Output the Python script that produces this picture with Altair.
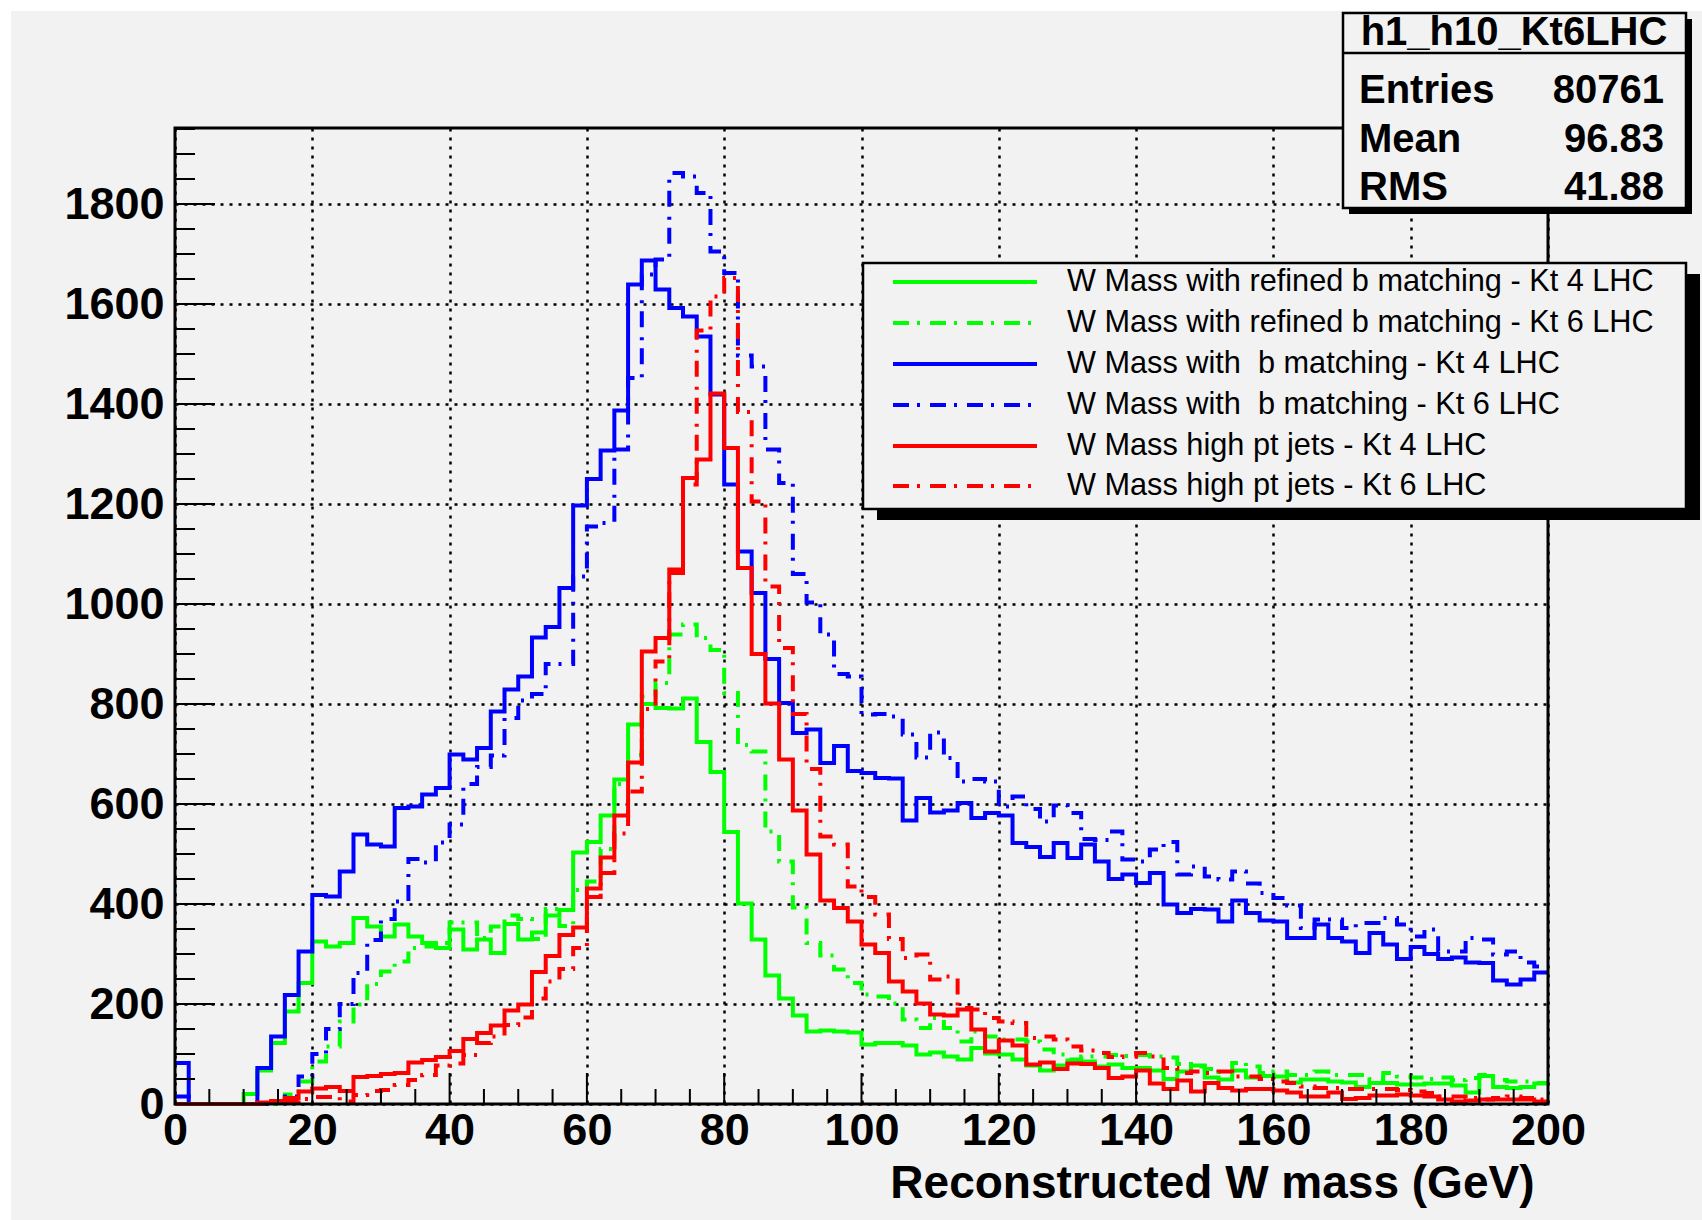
import altair as alt
import pandas as pd
import numpy as np

# ---------------- data (bin contents, 100 bins of 2 GeV from 0 to 200) ----------------
bin_low = list(range(0, 200, 2))

green_kt4 = [0, 0, 0, 0, 0, 20, 67, 122, 185, 242,
             325, 315, 322, 372, 355, 335, 359, 335, 322, 312,
             349, 309, 329, 302, 360, 329, 343, 377, 388, 503,
             524, 577, 649, 759, 800, 792, 791, 811, 724, 664,
             544, 401, 329, 257, 211, 177, 145, 147, 145, 143,
             119, 122, 122, 117, 99, 103, 95, 89, 112, 101,
             99, 89, 77, 67, 77, 87, 85, 75, 79, 72,
             72, 67, 50, 65, 77, 53, 49, 67, 53, 56,
             55, 43, 49, 49, 45, 43, 34, 42, 42, 39,
             39, 41, 41, 37, 23, 56, 34, 32, 34, 41]

green_kt6 = [0, 0, 0, 0, 0, 0, 0, 0, 19, 45,
             85, 115, 165, 199, 240, 265, 285, 312, 315, 322,
             363, 363, 332, 355, 377, 370, 330, 390, 356, 428,
             445, 510, 640, 698, 815, 842, 939, 959, 932, 908,
             822, 718, 705, 545, 485, 393, 322, 297, 269, 242,
             219, 215, 201, 169, 152, 172, 152, 125, 145, 135,
             129, 129, 125, 109, 99, 89, 95, 95, 98, 96,
             98, 95, 93, 80, 75, 70, 64, 82, 75, 62,
             65, 58, 58, 65, 58, 58, 58, 50, 62, 55,
             53, 50, 53, 48, 52, 58, 48, 45, 45, 42]

blue_kt4 = [82, 0, 0, 0, 0, 0, 72, 135, 218, 305,
            418, 415, 465, 539, 519, 515, 592, 595, 619, 632,
            699, 689, 712, 785, 829, 855, 933, 954, 1032, 1197,
            1250, 1307, 1387, 1639, 1687, 1629, 1592, 1575, 1535, 1419,
            1239, 1105, 1022, 890, 802, 742, 749, 682, 716, 666,
            662, 652, 651, 567, 612, 583, 587, 602, 572, 582,
            577, 522, 514, 494, 522, 492, 519, 485, 450, 459,
            442, 462, 399, 382, 390, 389, 365, 407, 382, 367,
            365, 332, 332, 359, 332, 325, 302, 342, 319, 290,
            314, 300, 290, 293, 283, 282, 247, 239, 249, 263]

blue_kt6 = [15, 0, 0, 0, 0, 0, 0, 3, 15, 55,
            100, 150, 200, 262, 328, 370, 405, 490, 483, 523,
            559, 640, 674, 697, 772, 807, 820, 880, 880, 1055,
            1155, 1162, 1309, 1452, 1659, 1689, 1862, 1855, 1822, 1705,
            1662, 1497, 1475, 1309, 1242, 1060, 1003, 939, 860, 855,
            779, 780, 775, 739, 693, 743, 692, 645, 650, 645,
            595, 615, 590, 565, 597, 582, 530, 528, 545, 489,
            485, 509, 524, 459, 475, 455, 449, 465, 441, 422,
            412, 397, 352, 369, 369, 352, 362, 362, 372, 359,
            335, 349, 305, 305, 332, 329, 299, 305, 283, 275]

red_kt4 = [0, 0, 0, 0, 0, 0, 3, 6, 12, 25,
           31, 34, 26, 54, 56, 60, 62, 83, 88, 94,
           106, 130, 142, 157, 187, 199, 264, 296, 338, 353,
           431, 493, 577, 683, 905, 932, 1069, 1252, 1289, 1421,
           1312, 1072, 900, 801, 689, 587, 499, 407, 392, 365,
           319, 302, 245, 225, 201, 179, 177, 189, 149, 105,
           127, 117, 79, 83, 70, 81, 80, 72, 52, 55,
           67, 41, 30, 47, 25, 42, 32, 27, 30, 30,
           27, 23, 15, 15, 23, 10, 12, 17, 17, 19,
           17, 15, 9, 5, 7, 9, 9, 9, 9, 5]

red_kt6 = [0, 0, 0, 0, 0, 0, 0, 2, 5, 10,
           14, 14, 5, 18, 26, 28, 38, 48, 58, 77,
           81, 98, 122, 135, 158, 173, 211, 245, 270, 312,
           414, 462, 541, 625, 790, 885, 1062, 1239, 1547, 1615,
           1652, 1384, 1205, 1035, 912, 780, 670, 535, 519, 435,
           414, 379, 330, 292, 299, 249, 255, 192, 189, 172,
           165, 162, 132, 135, 129, 115, 107, 102, 94, 95,
           102, 95, 72, 62, 65, 62, 65, 55, 55, 50,
           45, 42, 35, 32, 32, 30, 30, 30, 30, 28,
           25, 22, 15, 15, 12, 9, 12, 15, 12, 9]

legend_labels = [
    "W Mass with refined b matching - Kt 4 LHC",
    "W Mass with refined b matching - Kt 6 LHC",
    "W Mass with \u00a0b matching - Kt 4 LHC",
    "W Mass with \u00a0b matching - Kt 6 LHC",
    "W Mass high pt jets - Kt 4 LHC",
    "W Mass high pt jets - Kt 6 LHC",
]
series_values = [green_kt4, green_kt6, blue_kt4, blue_kt6, red_kt4, red_kt6]

stats_title = "h1_h10_Kt6LHC"
stats_names = ["Entries", "Mean", "RMS"]
stats_numbers = ["80761", "96.83", "41.88"]

x_tick_labels = list(range(0, 201, 20))
y_tick_labels = list(range(0, 1801, 200))

# ---------------- styling / layout ----------------
W, H = 1373, 976
X0, Y0 = 175, 128
XMAX, YMAX = 200, 1952
BG = "#f2f2f2"
FONT = "Liberation Sans"
colors = ["#00ff00", "#00ff00", "#0000ff", "#0000ff", "#ff0000", "#ff0000"]
DASHDOT = [16, 8, 3, 10]
dashed = [False, True, False, True, False, True]
LW = 4


def px(xf):
    return xf - X0


def py(yf):
    return yf - Y0


one = pd.DataFrame({"k": [0]})
xscale = alt.Scale(domain=[0, XMAX], nice=False, zero=False)
yscale = alt.Scale(domain=[0, YMAX], nice=False)

xaxis = alt.Axis(values=x_tick_labels, title="Reconstructed W mass (GeV)", format="d",
                 labelFont=FONT, labelFontSize=45, labelFontWeight="bold", labelColor="black",
                 labelPadding=4, labelFlush=False, labelOverlap=False,
                 ticks=False, tickSize=0, domain=False,
                 grid=True, gridColor="black", gridDash=[3, 6], gridWidth=2.5, gridOpacity=1,
                 titleFont=FONT, titleFontSize=46, titleFontWeight="bold", titleColor="black",
                 titleAlign="right", titleBaseline="alphabetic", titleX=1359, titleY=93)
yaxis = alt.Axis(values=y_tick_labels, title=None, format="d",
                 labelFont=FONT, labelFontSize=45, labelFontWeight="bold", labelColor="black",
                 labelPadding=11, labelFlush=False, labelOverlap=False,
                 ticks=False, tickSize=0, domain=False,
                 grid=True, gridColor="black", gridDash=[3, 6], gridWidth=2.5, gridOpacity=1)

layers = []

# white strips of the screenshot border
layers.append(alt.Chart(one).mark_rect(fill="white").encode(
    x=alt.value(px(0)), x2=alt.value(px(11)), y=alt.value(py(0)), y2=alt.value(py(1220))))
layers.append(alt.Chart(one).mark_rect(fill="white").encode(
    x=alt.value(px(0)), x2=alt.value(px(1702)), y=alt.value(py(0)), y2=alt.value(py(11))))

# histograms
for i, vals in enumerate(series_values):
    df = pd.DataFrame({"x": bin_low + [XMAX], "y": vals + [vals[-1]]})
    kw = dict(interpolate="step-after", color=colors[i], strokeWidth=LW)
    if dashed[i]:
        kw["strokeDash"] = DASHDOT
    layers.append(alt.Chart(df).mark_line(**kw).encode(
        x=alt.X("x:Q", scale=xscale, axis=xaxis),
        y=alt.Y("y:Q", scale=yscale, axis=yaxis)))

# inner ticks
y_major = pd.DataFrame({"x": [0] * len(y_tick_labels), "y": y_tick_labels})
y_minor_vals = [v for v in range(0, 1951, 50) if v % 200 != 0]
y_minor = pd.DataFrame({"x": [0] * len(y_minor_vals), "y": y_minor_vals})
x_major = pd.DataFrame({"x": x_tick_labels, "y": [0] * len(x_tick_labels)})
x_minor_vals = [v for v in range(0, 201, 5) if v % 20 != 0]
x_minor = pd.DataFrame({"x": x_minor_vals, "y": [0] * len(x_minor_vals)})
layers.append(alt.Chart(y_major).mark_rule(color="black", strokeWidth=2).encode(
    y=alt.Y("y:Q", scale=yscale, axis=yaxis), x=alt.value(0), x2=alt.value(40)))
layers.append(alt.Chart(y_minor).mark_rule(color="black", strokeWidth=2).encode(
    y=alt.Y("y:Q", scale=yscale, axis=yaxis), x=alt.value(0), x2=alt.value(20)))
layers.append(alt.Chart(x_major).mark_rule(color="black", strokeWidth=2).encode(
    x=alt.X("x:Q", scale=xscale, axis=xaxis), y=alt.value(H), y2=alt.value(H - 31)))
layers.append(alt.Chart(x_minor).mark_rule(color="black", strokeWidth=2).encode(
    x=alt.X("x:Q", scale=xscale, axis=xaxis), y=alt.value(H), y2=alt.value(H - 15)))

# frame
layers.append(alt.Chart(one).mark_rect(filled=False, stroke="black", strokeWidth=3).encode(
    x=alt.value(0), x2=alt.value(W), y=alt.value(0), y2=alt.value(H)))

# legend box
LX1, LX2, LY1, LY2 = 863, 1686, 263, 509
layers.append(alt.Chart(one).mark_rect(fill="black").encode(
    x=alt.value(px(LX1 + 14)), x2=alt.value(px(LX2 + 14)),
    y=alt.value(py(LY1 + 11)), y2=alt.value(py(LY2 + 11))))
layers.append(alt.Chart(one).mark_rect(fill=BG, stroke="black", strokeWidth=2.5).encode(
    x=alt.value(px(LX1)), x2=alt.value(px(LX2)), y=alt.value(py(LY1)), y2=alt.value(py(LY2))))
row_y = [282, 323, 364, 405, 446, 486]
for i, lab in enumerate(legend_labels):
    kw = dict(color=colors[i], strokeWidth=LW)
    if dashed[i]:
        kw["strokeDash"] = DASHDOT
    layers.append(alt.Chart(one).mark_rule(**kw).encode(
        x=alt.value(px(893)), x2=alt.value(px(1037)), y=alt.value(py(row_y[i])), y2=alt.value(py(row_y[i]))))
    layers.append(alt.Chart(one).mark_text(text=lab, font=FONT, fontSize=30.7, color="black",
                                           align="left", baseline="middle").encode(
        x=alt.value(px(1067)), y=alt.value(py(row_y[i]))))

# stats box
SX1, SX2, SY1, SY2 = 1343, 1686, 13, 208
layers.append(alt.Chart(one).mark_rect(fill="black").encode(
    x=alt.value(px(SX1 + 6)), x2=alt.value(px(SX2 + 6)),
    y=alt.value(py(SY1 + 6)), y2=alt.value(py(SY2 + 6))))
layers.append(alt.Chart(one).mark_rect(fill=BG, stroke="black", strokeWidth=2.5).encode(
    x=alt.value(px(SX1)), x2=alt.value(px(SX2)), y=alt.value(py(SY1)), y2=alt.value(py(SY2))))
layers.append(alt.Chart(one).mark_rule(color="black", strokeWidth=2.5).encode(
    x=alt.value(px(SX1)), x2=alt.value(px(SX2)), y=alt.value(py(53)), y2=alt.value(py(53))))
layers.append(alt.Chart(one).mark_text(text=stats_title, font=FONT, fontSize=40, fontWeight="bold",
                                       color="black", align="center", baseline="alphabetic").encode(
    x=alt.value(px(1514)), y=alt.value(py(45))))
stat_y = [103, 152, 200]
for i in range(3):
    layers.append(alt.Chart(one).mark_text(text=stats_names[i], font=FONT, fontSize=40, fontWeight="bold",
                                           color="black", align="left", baseline="alphabetic").encode(
        x=alt.value(px(1359)), y=alt.value(py(stat_y[i]))))
    layers.append(alt.Chart(one).mark_text(text=stats_numbers[i], font=FONT, fontSize=40, fontWeight="bold",
                                           color="black", align="right", baseline="alphabetic").encode(
        x=alt.value(px(1664)), y=alt.value(py(stat_y[i]))))

chart = alt.layer(*layers).properties(
    width=W, height=H,
    padding={"left": X0, "top": Y0, "right": 1702 - X0 - W, "bottom": 1220 - Y0 - H},
    autosize=alt.AutoSizeParams(type="none"),
    background=BG,
).configure_view(stroke=None)

chart.save("out.html", embed_options={"renderer": "svg", "actions": False})
